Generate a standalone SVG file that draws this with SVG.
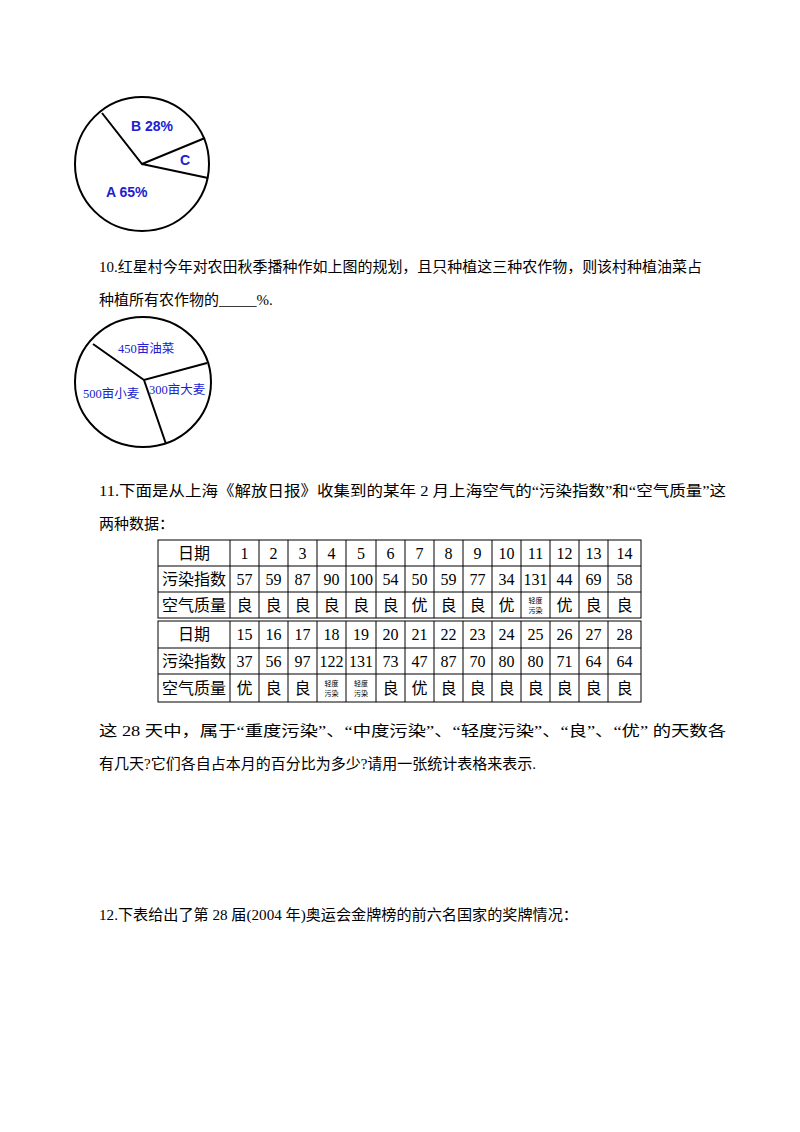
<svg xmlns="http://www.w3.org/2000/svg" width="800" height="1132" viewBox="0 0 800 1132">
<style>
.t{font-family:"Liberation Serif","Noto Sans CJK SC",serif;font-size:15px;fill:#000}
.c{font-family:"Liberation Serif","Noto Sans CJK SC",serif;font-size:16px;fill:#000;text-anchor:middle}
.s{font-family:"Noto Sans CJK SC",sans-serif;font-size:7px;fill:#000;text-anchor:middle}
.b{font-family:"Liberation Sans",Arial,sans-serif;font-weight:bold;font-size:14px;fill:#2020d0}
.p{font-family:"Liberation Serif","Noto Sans CJK SC",serif;font-size:12.5px;fill:#2020d0}
.ln{stroke:#000;stroke-width:2;fill:none}
.g{stroke:#000;stroke-width:1;fill:none}
</style>
<rect width="800" height="1132" fill="#fff"/>
<g id="pie1">
<circle cx="142" cy="164" r="67" class="ln"/>
<path d="M102 113 L142 164 L205 138 M142 164 L208 178" class="ln"/>
<text x="131" y="131" class="b">B 28%</text>
<text x="180" y="165" class="b">C</text>
<text x="106" y="197" class="b">A 65%</text>
</g>
<text x="99" y="272" class="t" textLength="603" lengthAdjust="spacingAndGlyphs">10.红星村今年对农田秋季播种作如上图的规划，且只种植这三种农作物，则该村种植油菜占</text>
<text x="99" y="305" class="t">种植所有农作物的_____%.</text>
<g id="pie2">
<ellipse cx="143" cy="382" rx="68" ry="65" class="ln"/>
<path d="M93 344 L144 380 L207 363 M144 380 L166 444" class="ln"/>
<text x="118" y="353" class="p">450亩油菜</text>
<text x="83" y="398" class="p">500亩小麦</text>
<text x="149" y="394" class="p">300亩大麦</text>
</g>
<text x="99" y="496" class="t" textLength="627" lengthAdjust="spacingAndGlyphs">11.下面是从上海《解放日报》收集到的某年 2 月上海空气的“污染指数”和“空气质量”这</text>
<text x="99" y="529" class="t">两种数据：</text>
<g id="table">
<rect x="158" y="540" width="483" height="78" class="g"/>
<rect x="158" y="621" width="483" height="81" class="g"/>
<path class="g" d="M158 566H641M158 592H641M158 648H641M158 674H641
M230 540V618M259 540V618M288 540V618M317 540V618M346 540V618M376 540V618M405 540V618M434 540V618M463 540V618M492 540V618M521 540V618M550 540V618M579 540V618M608 540V618
M230 621V702M259 621V702M288 621V702M317 621V702M346 621V702M376 621V702M405 621V702M434 621V702M463 621V702M492 621V702M521 621V702M550 621V702M579 621V702M608 621V702"/>
<g class="c">
<text x="194" y="559">日期</text><text x="194" y="585">污染指数</text><text x="194" y="611">空气质量</text>
<text x="194" y="640">日期</text><text x="194" y="667">污染指数</text><text x="194" y="694">空气质量</text>
<text x="244.5" y="559">1</text><text x="273.5" y="559">2</text><text x="302.5" y="559">3</text><text x="331.5" y="559">4</text><text x="361" y="559">5</text><text x="390.5" y="559">6</text><text x="419.5" y="559">7</text><text x="448.5" y="559">8</text><text x="477.5" y="559">9</text><text x="506.5" y="559">10</text><text x="535.5" y="559">11</text><text x="564.5" y="559">12</text><text x="593.5" y="559">13</text><text x="624.5" y="559">14</text>
<text x="244.5" y="585">57</text><text x="273.5" y="585">59</text><text x="302.5" y="585">87</text><text x="331.5" y="585">90</text><text x="361" y="585">100</text><text x="390.5" y="585">54</text><text x="419.5" y="585">50</text><text x="448.5" y="585">59</text><text x="477.5" y="585">77</text><text x="506.5" y="585">34</text><text x="535.5" y="585">131</text><text x="564.5" y="585">44</text><text x="593.5" y="585">69</text><text x="624.5" y="585">58</text>
<text x="244.5" y="611">良</text><text x="273.5" y="611">良</text><text x="302.5" y="611">良</text><text x="331.5" y="611">良</text><text x="361" y="611">良</text><text x="390.5" y="611">良</text><text x="419.5" y="611">优</text><text x="448.5" y="611">良</text><text x="477.5" y="611">良</text><text x="506.5" y="611">优</text><text x="564.5" y="611">优</text><text x="593.5" y="611">良</text><text x="624.5" y="611">良</text>
<text x="244.5" y="640">15</text><text x="273.5" y="640">16</text><text x="302.5" y="640">17</text><text x="331.5" y="640">18</text><text x="361" y="640">19</text><text x="390.5" y="640">20</text><text x="419.5" y="640">21</text><text x="448.5" y="640">22</text><text x="477.5" y="640">23</text><text x="506.5" y="640">24</text><text x="535.5" y="640">25</text><text x="564.5" y="640">26</text><text x="593.5" y="640">27</text><text x="624.5" y="640">28</text>
<text x="244.5" y="667">37</text><text x="273.5" y="667">56</text><text x="302.5" y="667">97</text><text x="331.5" y="667">122</text><text x="361" y="667">131</text><text x="390.5" y="667">73</text><text x="419.5" y="667">47</text><text x="448.5" y="667">87</text><text x="477.5" y="667">70</text><text x="506.5" y="667">80</text><text x="535.5" y="667">80</text><text x="564.5" y="667">71</text><text x="593.5" y="667">64</text><text x="624.5" y="667">64</text>
<text x="244.5" y="694">优</text><text x="273.5" y="694">良</text><text x="302.5" y="694">良</text><text x="390.5" y="694">良</text><text x="419.5" y="694">优</text><text x="448.5" y="694">良</text><text x="477.5" y="694">良</text><text x="506.5" y="694">良</text><text x="535.5" y="694">良</text><text x="564.5" y="694">良</text><text x="593.5" y="694">良</text><text x="624.5" y="694">良</text>
</g>
<g class="s">
<text x="535.5" y="603">轻度</text><text x="535.5" y="613">污染</text>
<text x="331.5" y="686">轻度</text><text x="331.5" y="696">污染</text>
<text x="361" y="686">轻度</text><text x="361" y="696">污染</text>
</g>
</g>
<text x="99" y="736" class="t" textLength="627" lengthAdjust="spacingAndGlyphs">这 28 天中，属于“重度污染”、“中度污染”、“轻度污染”、“良”、“优” 的天数各</text>
<text x="99" y="769" class="t">有几天?它们各自占本月的百分比为多少?请用一张统计表格来表示.</text>
<text x="99" y="920" class="t" textLength="479" lengthAdjust="spacingAndGlyphs">12.下表给出了第 28 届(2004 年)奥运会金牌榜的前六名国家的奖牌情况：</text>
</svg>
